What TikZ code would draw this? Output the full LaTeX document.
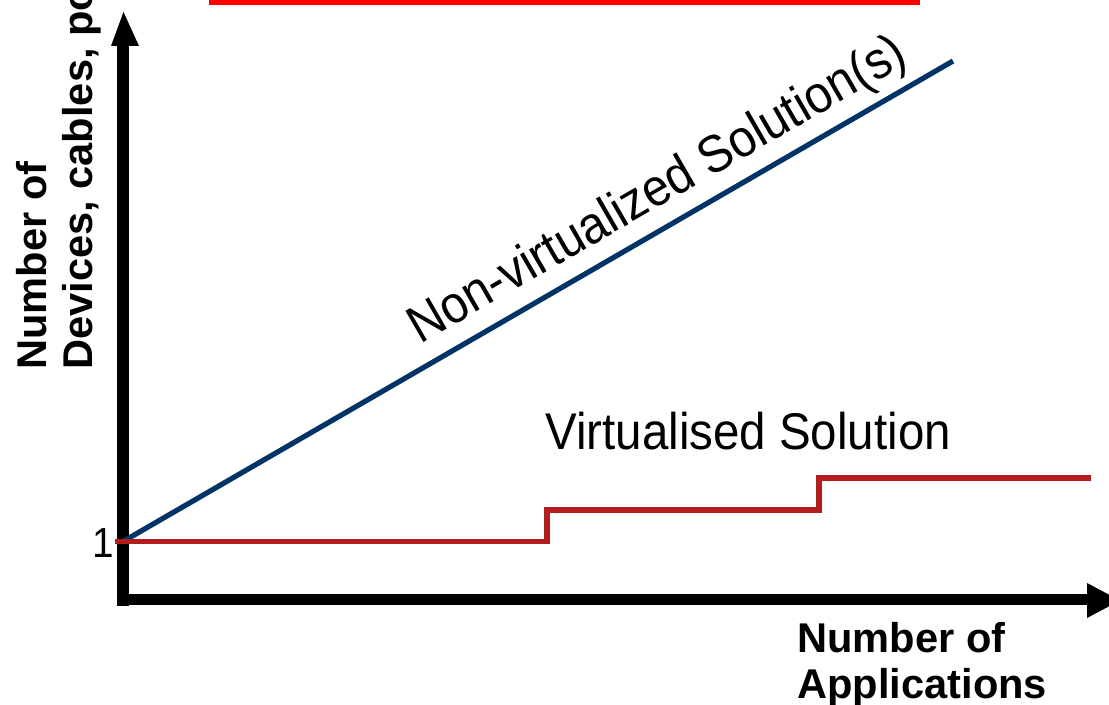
\documentclass[tikz,border=0pt]{standalone}
\usepackage{fontspec}
\setmainfont{Liberation Sans}
\newfontfamily\narrowfont[FakeStretch=0.92]{Liberation Sans}
\definecolor{navyline}{RGB}{0,51,102}
\definecolor{stepred}{RGB}{178,30,30}
\definecolor{topred}{RGB}{255,0,0}
\tikzset{
  axisline/.style={line width=6pt, line cap=butt, black},
  axishead/.style={fill=black, draw=none},
  growline/.style={line width=2.6pt, navyline, line cap=butt},
  stepline/.style={line width=2.7pt, stepred, line cap=butt, line join=miter},
  axislabel/.style={inner sep=0pt, align=left, font=\bfseries\fontsize{20.8pt}{23.2pt}\selectfont},
  curvelabel/.style={inner sep=0pt, font=\narrowfont\fontsize{25.8pt}{30pt}\selectfont},
}
\begin{document}
\begin{tikzpicture}[x=0.5pt,y=-0.5pt]
\useasboundingbox (0,0) rectangle (1109,705);
\clip (0,0) rectangle (1109,705);

% top red bar (cut off at the top edge)
\fill[topred] (209,-4) rectangle (920,5);

% named points
\coordinate (ybot) at (122.5,605.5);
\coordinate (ytop) at (122.5,45);
\coordinate (ytip) at (123.5,12);
\coordinate (yhl) at (111,46);
\coordinate (yhr) at (139,46);
\coordinate (xleft) at (116.5,599.5);
\coordinate (xright) at (1087,599.5);
\coordinate (xtip) at (1120,600.5);
\coordinate (xht) at (1087,583);
\coordinate (xhb) at (1087,618);
\coordinate (origin) at (123,541.5);
\coordinate (blueend) at (953,61);
\coordinate (s0) at (115,541.5);
\coordinate (s1) at (547,541.5);
\coordinate (s2) at (547,510);
\coordinate (s3) at (819,510);
\coordinate (s4) at (819,478);
\coordinate (s5) at (1091,478);

% axes
\draw[axisline] (ybot) -- (ytop);
\fill[axishead] (ytip) -- (yhl) -- (yhr) -- cycle;
\draw[axisline, line width=5.5pt] (xleft) -- (xright);
\fill[axishead] (xtip) -- (xht) -- (xhb) -- cycle;

% curves
\draw[growline] (origin) -- (blueend);
\draw[stepline] (s0) -- (s1) -- (s2) -- (s3) -- (s4) -- (s5);

% labels
\node[curvelabel, anchor=base west] (virt) at (545,450) {Virtualised Solution};
\node[curvelabel, anchor=base west, rotate=30, font=\narrowfont\fontsize{26.2pt}{30pt}\selectfont] (nonvirt) at (420,345) {Non-virtualized Solution(s)};
\node[inner sep=0pt, anchor=base west, font=\narrowfont\fontsize{21pt}{24pt}\selectfont] (one) at (92,558) {1};
\node[axislabel, anchor=north west] (xlab) at (797,622) {Number of\\Applications};
\node[axislabel, anchor=north west, rotate=90] (ylab) at (16,370) {Number of\\Devices, cables, po};
\end{tikzpicture}
\end{document}
